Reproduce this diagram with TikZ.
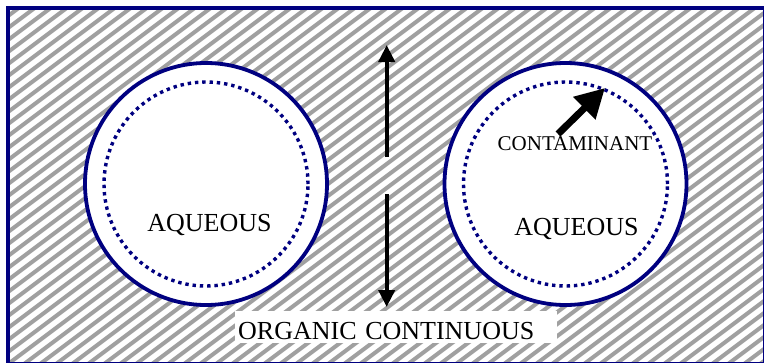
\documentclass[tikz,border=0pt]{standalone}
\usepackage{fontspec}
\setmainfont{Liberation Serif}
\usetikzlibrary{arrows.meta}
\definecolor{dropblue}{RGB}{0,0,128}
\definecolor{hatchgray}{RGB}{160,160,160}

\begin{document}
\begin{tikzpicture}[x=1pt, y=-1pt,
  drop/.style={circle, draw=dropblue, line width=3.8pt, fill=white, minimum size=242pt, inner sep=0pt},
  film/.style={circle, draw=dropblue, line width=3.4pt, dash pattern=on 3.4pt off 3.9pt, minimum size=204pt, inner sep=0pt},
  hatch/.style={draw=hatchgray, line width=4pt},
  bigtext/.style={font=\fontsize{26}{30}\selectfont, inner sep=0pt},
  smalltext/.style={font=\fontsize{21}{25}\selectfont, inner sep=0pt},
  arrow/.style={-{Triangle[length=17pt, width=16pt]}, line width=4pt},
  fatarrow/.style={-{Triangle[length=29pt, width=30pt]}, line width=7pt}
]
\useasboundingbox (0,0) rectangle (764,362);

% Organic phase (hatched)
\begin{scope}
  \clip (10,10) rectangle (763,362);
  \foreach \i in {-32,...,48}
    \draw[hatch] ({\i*16},370) -- ++(500,-375);
\end{scope}
\draw[dropblue, line width=4pt] (8,8) rectangle (764.5,363.5);

% Aqueous drops
\node[drop] (leftdrop) at (206,184) {};
\node[film] (leftfilm) at (206,184) {};
\node[drop] (rightdrop) at (565.5,184) {};
\node[film] (rightfilm) at (565.5,184) {};

% Labels
\node[bigtext, anchor=base] (aqleft) at (209.5,231.5) {AQUEOUS};
\node[bigtext, anchor=base] (aqright) at (576.5,235) {AQUEOUS};
\node[smalltext, anchor=base] (contam) at (575,150) {CONTAMINANT};
\node[bigtext, fill=white, anchor=base west, inner xsep=3pt, text width=316pt, align=left,
  text height=28.5pt, text depth=3.5pt] (organic) at (235,339.5) {ORGANIC CONTINUOUS};

% Arrows
\coordinate (uptail) at (386.7,157);
\coordinate (uptip) at (386.7,45);
\coordinate (downtail) at (386.7,194);
\coordinate (downtip) at (386.7,307);
\draw[arrow] (uptail) -- (uptip);
\draw[arrow] (downtail) -- (downtip);

\coordinate (contamtail) at (558,134);
\coordinate (contamtip) at (605,88);
\draw[fatarrow] (contamtail) -- (contamtip);

\end{tikzpicture}
\end{document}
